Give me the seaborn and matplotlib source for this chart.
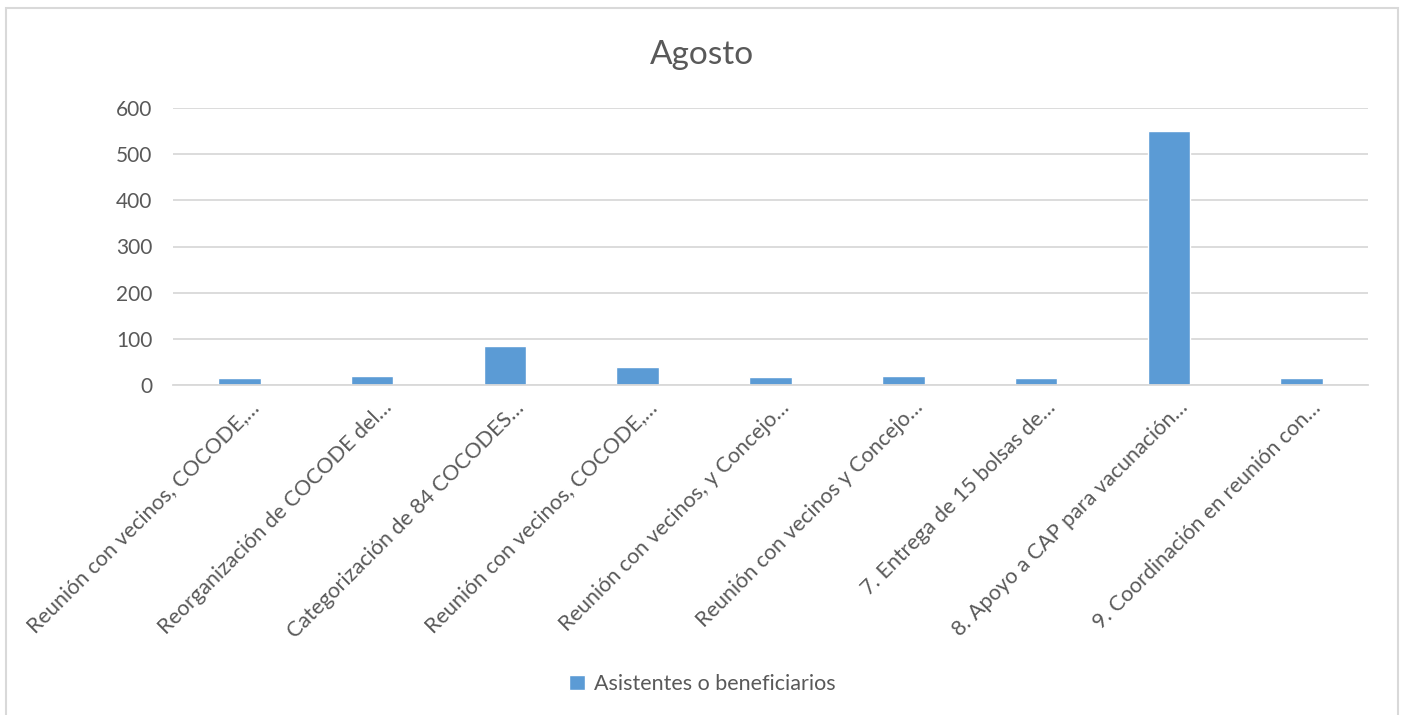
import pandas as pd
import matplotlib.pyplot as plt
import matplotlib.patches as mpatches
import matplotlib.transforms as mtransforms
import seaborn as sns

# datos
actividades = [
    "Reunión con vecinos, COCODE,…",
    "Reorganización de COCODE del…",
    "Categorización de 84 COCODES…",
    "Reunión con vecinos, COCODE,…",
    "Reunión con vecinos, y Concejo…",
    "Reunión con vecinos y Concejo…",
    "7. Entrega de 15 bolsas de…",
    "8. Apoyo a CAP para vacunación…",
    "9. Coordinación en reunión con…",
]
asistentes = [15, 20, 85, 40, 18, 20, 15, 550, 15]
serie = "Asistentes o beneficiarios"
y_ticks = [0, 100, 200, 300, 400, 500, 600]

gris_texto = "#595959"
gris_linea = "#D9D9D9"
azul = "#5B9BD5"

sns.set_theme(style="white")
plt.rcParams["font.family"] = ["Lato", "DejaVu Sans"]

df = pd.DataFrame({
    "pos": range(len(actividades)),
    "valor": asistentes,
    "serie": serie,
})

fig = plt.figure(figsize=(14.04, 7.15), dpi=100)
ax = fig.add_axes([173 / 1404, 1 - 385 / 715, (1368 - 173) / 1404, (385 - 108) / 715])

sns.barplot(data=df, x="pos", y="valor", hue="serie", palette=[azul],
            width=0.32, ax=ax, saturation=1)

ax.set_ylim(0, 600)
ax.set_yticks(y_ticks)
ax.set_xlim(-0.5, len(actividades) - 0.5)
ax.set_xlabel("")
ax.set_ylabel("")
ax.yaxis.grid(True, color=gris_linea, linewidth=1.3)
ax.set_axisbelow(True)
for lado in ["top", "right", "left"]:
    ax.spines[lado].set_visible(False)
ax.spines["bottom"].set_color(gris_linea)
ax.spines["bottom"].set_linewidth(1.3)
ax.tick_params(axis="y", length=0, colors=gris_texto, labelsize=15, pad=15)
ax.set_xticks(range(len(actividades)))
ax.set_xticklabels(actividades, rotation=45, ha="right", rotation_mode="anchor")
ax.tick_params(axis="x", length=0, colors=gris_texto, labelsize=15.5, pad=9)
desplaza = mtransforms.ScaledTranslation(9 / 100, 0, fig.dpi_scale_trans)
for etiqueta in ax.get_xticklabels():
    etiqueta.set_transform(etiqueta.get_transform() + desplaza)

fig.suptitle("Agosto", x=0.5, y=1 - 55 / 715, va="center", fontsize=24, color=gris_texto)

sns.move_legend(ax, "center", bbox_to_anchor=(0.5, 1 - 684 / 715),
                bbox_transform=fig.transFigure, frameon=False, title=None,
                fontsize=15.5, handlelength=0.75, handleheight=0.75, handletextpad=0.4,
                labelcolor=gris_texto)

# marco del area del grafico
marco = mpatches.Rectangle((6 / 1404, -0.05), (1398 - 6) / 1404, 1.05 - 8 / 715,
                           transform=fig.transFigure, fill=False,
                           edgecolor=gris_linea, linewidth=1.5)
fig.patches.append(marco)

plt.savefig("out.png", dpi=100)
